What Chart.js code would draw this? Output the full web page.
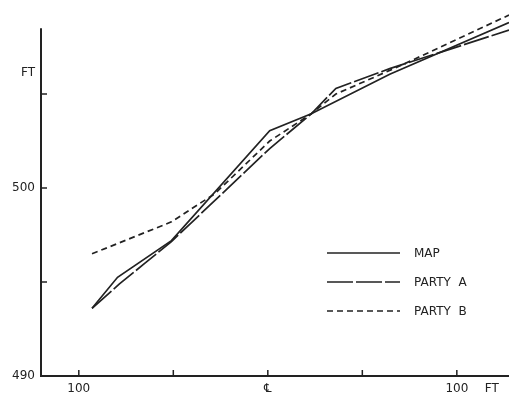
<!DOCTYPE html>
<html>
<head>
<meta charset="utf-8">
<script src="https://cdn.jsdelivr.net/npm/chart.js@4.4.0/dist/chart.umd.min.js"></script>
<style>
  html, body { margin: 0; padding: 0; background: #fff; }
  #wrap { width: 509px; height: 396px; }
</style>
</head>
<body>
<div id="wrap"><canvas id="chart" width="509" height="396"></canvas></div>
<script>
// distances in ft from centre line, elevations in ft
const mapX = [-93, -79.5, -51, 1, 23, 64.5, 127.6];
const mapY = [493.6, 495.25, 497.2, 503.05, 503.95, 506.05, 508.8];

const partyAX = [-93, -78.5, -65, -51, 1, 23, 36, 64.5, 127.6];
const partyAY = [493.6, 494.9, 496.0, 497.15, 502.1, 503.95, 505.3, 506.35, 508.4];

const partyBX = [-93, -51, -28, 1, 23, 36, 70, 127.6];
const partyBY = [496.5, 498.2, 499.7, 502.5, 503.95, 505.0, 506.5, 509.2];

const seriesNames = ['MAP', 'PARTY  A', 'PARTY  B'];

const xTickValues = [-100, -50, 0, 50, 100, 118.5];
const xTickLabels = ['100', '', '℄', '', '100', 'FT'];
const yTickValues = [490, 495, 500, 505, 506.1];
const yTickLabels = ['490', '', '500', '', 'FT'];
const yAxisTop = 508.5;

const ink = '#222';

function toPoints(xs, ys) {
  return xs.map((x, i) => ({ x: x, y: ys[i] }));
}

const datasets = [
  { label: seriesNames[0], data: toPoints(mapX, mapY), borderDash: [] },
  { label: seriesNames[1], data: toPoints(partyAX, partyAY), borderDash: [26, 3] },
  { label: seriesNames[2], data: toPoints(partyBX, partyBY), borderDash: [6, 4] },
].map((d) => ({
  ...d,
  borderColor: ink,
  borderWidth: 1.7,
  pointRadius: 0,
  tension: 0,
  fill: false,
}));

const spacingPlugin = {
  id: 'spacing',
  beforeInit(chart) {
    chart.ctx.letterSpacing = '1.5px';
  },
};

const axesPlugin = {
  id: 'axes',
  afterDraw(chart) {
    const { ctx } = chart;
    const { x, y } = chart.scales;
    const bottom = y.getPixelForValue(490);
    ctx.save();
    ctx.strokeStyle = ink;
    ctx.lineWidth = 2;
    ctx.beginPath();
    ctx.moveTo(x.left, y.getPixelForValue(yAxisTop));
    ctx.lineTo(x.left, bottom);
    ctx.lineTo(x.right, bottom);
    ctx.stroke();

    ctx.lineWidth = 1.5;
    ctx.beginPath();
    [495, 500, 505].forEach((v) => {
      const py = y.getPixelForValue(v);
      ctx.moveTo(x.left, py);
      ctx.lineTo(x.left + 6, py);
    });
    [-100, -50, 0, 50, 100].forEach((v) => {
      const px = x.getPixelForValue(v);
      ctx.moveTo(px, bottom);
      ctx.lineTo(px, bottom - 6);
    });
    ctx.stroke();
    ctx.restore();
  },
};

const legendPlugin = {
  id: 'insideLegend',
  afterDraw(chart) {
    const { ctx } = chart;
    ctx.save();
    ctx.font = '12px "DejaVu Sans"';
    ctx.fillStyle = ink;
    ctx.textBaseline = 'middle';
    chart.data.datasets.forEach((ds, i) => {
      const ly = 253 + i * 29;
      ctx.strokeStyle = ink;
      ctx.lineWidth = 1.7;
      ctx.setLineDash(ds.borderDash);
      ctx.beginPath();
      ctx.moveTo(327, ly);
      ctx.lineTo(400, ly);
      ctx.stroke();
      ctx.setLineDash([]);
      ctx.fillText(ds.label, 414, ly + 1);
    });
    ctx.restore();
  },
};

const config = {
  type: 'line',
  data: { datasets },
  options: {
    responsive: false,
    animation: false,
    layout: { padding: { top: 5, right: 0, left: 0, bottom: 0 } },
    plugins: {
      legend: { display: false },
      tooltip: { enabled: false },
    },
    scales: {
      x: {
        type: 'linear',
        min: -120,
        max: 127.6,
        afterBuildTicks: (scale) => {
          scale.ticks = xTickValues.map((v) => ({ value: v }));
        },
        afterFit: (scale) => {
          scale.height = 20;
        },
        grid: { display: false, drawTicks: false },
        border: { display: false },
        ticks: {
          autoSkip: false,
          maxRotation: 0,
          padding: 6,
          color: ink,
          font: { family: 'DejaVu Sans', size: 12 },
          callback: (value) => xTickLabels[xTickValues.indexOf(value)],
        },
      },
      y: {
        type: 'linear',
        min: 490,
        max: 509.3,
        afterBuildTicks: (scale) => {
          scale.ticks = yTickValues.map((v) => ({ value: v }));
        },
        afterFit: (scale) => {
          scale.width = 41;
        },
        grid: { display: false, drawTicks: false },
        border: { display: false },
        ticks: {
          autoSkip: false,
          padding: 6,
          color: ink,
          font: { family: 'DejaVu Sans', size: 12 },
          callback: (value) => yTickLabels[yTickValues.indexOf(value)],
        },
      },
    },
  },
  plugins: [spacingPlugin, axesPlugin, legendPlugin],
};

const myChart = new Chart(document.getElementById('chart'), config);
</script>
</body>
</html>
